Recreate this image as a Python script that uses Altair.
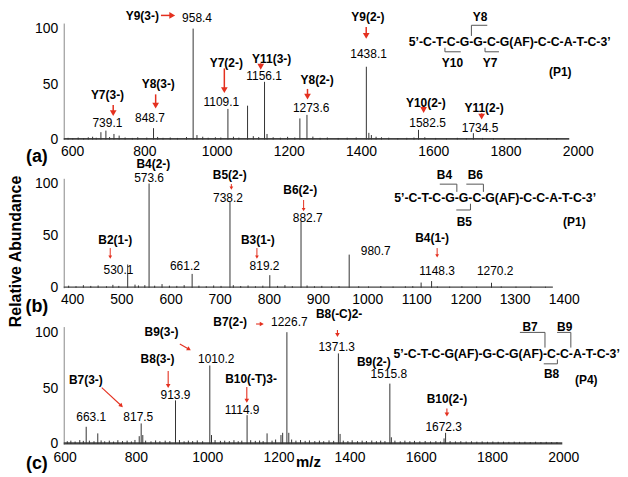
import altair as alt
import pandas as pd

FONT = "Liberation Sans"
RED = "#e4301f"
STICK = "#333333"
BRK = "#555555"

# ---------------- Panel (a) ----------------
a_ticks = [600, 800, 1000, 1200, 1400, 1600, 1800, 2000]
a_peak_mz = [703, 716.8, 739.1, 753.5, 848.7, 958.4, 969, 1054.7, 1109.1, 1156.1, 1163,
             1254, 1273.6, 1438.1, 1445, 1452, 1582.5, 1734.5]
a_peak_int = [6.6, 8, 5, 3.5, 10.2, 100, 4, 27.6, 30.5, 52, 5,
              19, 22.2, 65.6, 6, 4, 8.7, 5.7]
a_noise_mz = [612, 625, 640, 655, 668, 680, 690, 727, 770, 790, 805, 830, 860, 875, 895, 915, 940,
              985, 1000, 1020, 1035, 1070, 1085, 1125, 1140, 1180, 1200, 1220, 1240, 1290, 1310,
              1330, 1360, 1385, 1410, 1465, 1480, 1500, 1525, 1550, 1570, 1600, 1630, 1660, 1690,
              1715, 1760, 1790, 1820, 1850, 1880, 1910, 1940, 1965]
a_noise_int = [1.5, 1.2, 1.8, 1.3, 2, 2.5, 1.6, 2.2, 1.8, 1.4, 2, 1.7, 2.3, 1.5, 1.8, 1.4, 2.2,
               2.5, 1.6, 2, 1.8, 2.5, 1.7, 3, 2.2, 2, 1.6, 2.4, 1.8, 2.6, 1.5,
               1.8, 1.4, 1.6, 1.8, 2.5, 2, 1.6, 1.3, 1.5, 1.8, 2, 1.4, 1.2, 1.5,
               1.3, 1.4, 1.2, 1.3, 1.1, 1.4, 1.2, 1.3, 1.1]
a_lab_text = ["Y9(3-)", "958.4", "Y7(3-)", "739.1", "Y8(3-)", "848.7", "Y7(2-)", "1109.1",
              "Y11(3-)", "1156.1", "Y8(2-)", "1273.6", "Y9(2-)", "1438.1", "Y10(2-)", "1582.5",
              "Y11(2-)", "1734.5", "Y8", "Y10", "Y7", "(P1)"]
a_lab_mz = [817.7, 969.2, 721.2, 721.0, 861.8, 838.9, 1050.3, 1036.5,
            1175.9, 1155.0, 1301.9, 1285.3, 1442.4, 1444.3, 1603.0, 1607.7,
            1764.0, 1753.0, 1753, 1676.6, 1780.5, 1975]
a_lab_ab = [111.4, 109.6, 40.2, 14.6, 49.7, 19.8, 68.6, 34.1,
            73.0, 57.5, 53.6, 28.8, 110.5, 77.5, 32.6, 14.6,
            28.1, 10.8, 110.5, 69.2, 69.2, 60.5]
a_lab_bold = [1, 0, 1, 0, 1, 0, 1, 0, 1, 0, 1, 0, 1, 0, 1, 0, 1, 0, 1, 1, 1, 1]
a_seq = "5\u2019-C-T-C-G-G-C-G(AF)-C-C-A-T-C-3\u2019"
a_seq_mz, a_seq_ab = 1835, 88
a_arr_x1 = [869.2, 737, 854.6, 1044.8, 1145.6, 1275.1, 1437.7, 1596.7, 1757.3]
a_arr_y1 = [111.9, 31.2, 40.7, 64.1, 68.6, 45.6, 101.5, 30.5, 23.6]
a_arr_x2 = [900.5, 737, 854.6, 1044.8, 1145.6, 1275.1, 1437.7, 1596.7, 1757.3]
a_arr_y2 = [111.9, 23.7, 30.6, 44.6, 65.6, 38.7, 93.5, 26.6, 20.7]
a_arr_ang = [90, 180, 180, 180, 180, 180, 180, 180, 180]
a_brk_x1 = [1729, 1729, 1655.7, 1655.7, 1766.7, 1766.7]
a_brk_y1 = [103, 103, 82.7, 79.1, 82.7, 79.1]
a_brk_x2 = [1773, 1729, 1655.7, 1699.5, 1766.7, 1805.3]
a_brk_y2 = [103, 93.4, 79.1, 79.1, 79.1, 79.1]

# ---------------- Panel (b) ----------------
b_ticks = [400, 500, 600, 700, 800, 900, 1000, 1100, 1200, 1300, 1400]
b_peak_mz = [530.1, 573.6, 661.2, 738.2, 819.2, 882.7, 980.7, 1127, 1148.3, 1270.2]
b_peak_int = [22.3, 100, 13.3, 82.5, 12.1, 63.5, 31.8, 5, 6.4, 4.8]
b_noise_mz = [410, 425, 440, 455, 470, 487, 500, 512, 545, 552, 565, 585, 600, 615, 630, 645,
              675, 690, 705, 720, 745, 760, 775, 790, 805, 835, 850, 865, 895, 910, 925, 945,
              960, 1000, 1020, 1045, 1070, 1095, 1110, 1160, 1185, 1210, 1240, 1290, 1320,
              1350, 1380]
b_noise_int = [2, 1.5, 2.5, 1.8, 2.2, 1.5, 2.8, 1.8, 3, 2.2, 2.5, 2, 3.5, 2, 1.8, 2.5,
               2, 1.5, 2.2, 1.8, 2.5, 1.7, 2.2, 1.5, 2, 1.8, 2.5, 1.6, 2.2, 1.5, 1.8, 1.4,
               1.6, 1.5, 1.3, 1.6, 1.2, 1.4, 1.6, 1.3, 1.1, 1.4, 1.2, 1.3, 1.1,
               1.2, 1]
b_lab_text = ["B4(2-)", "573.6", "B5(2-)", "738.2", "B6(2-)", "882.7", "B2(1-)", "530.1",
              "661.2", "B3(1-)", "819.2", "980.7", "B4(1-)", "1148.3", "1270.2",
              "B4", "B6", "B5", "(P1)"]
b_lab_mz = [582.3, 573.6, 737.6, 734.2, 881.0, 896.3, 504.7, 511.4,
            646.5, 795.0, 808.5, 1034.6, 1149.4, 1159.6, 1277.6,
            1174.5, 1237.3, 1215, 1438.7]
b_lab_ab = [118.6, 105.4, 108.0, 86.3, 93.7, 66.6, 46.1, 17.5,
            20.7, 46.1, 20.7, 35.6, 47.6, 15.9, 15.9,
            108.5, 108.5, 63.5, 62.8]
b_lab_bold = [1, 0, 1, 0, 1, 0, 1, 0, 0, 1, 0, 0, 1, 0, 0, 1, 1, 1, 1]
b_seq = "5\u2019-C-T-C-G-G-C-G(AF)-C-C-A-T-C-3\u2019"
b_seq_mz, b_seq_ab = 1277.6, 86.3
b_arr_x1 = [741, 888, 494.6, 793, 1159.6]
b_arr_y1 = [99.5, 84.2, 38.1, 38.1, 38.1]
b_arr_x2 = [741, 888, 494.6, 793, 1159.6]
b_arr_y2 = [95.5, 75, 29.5, 29.5, 30.5]
b_arr_ang = [180, 180, 180, 180, 180]
b_brk_x1 = [1165, 1199.7, 1219, 1253.7, 1227.4, 1198.6]
b_brk_y1 = [99.4, 99.4, 99.4, 99.4, 80.6, 74.6]
b_brk_x2 = [1199.7, 1199.7, 1253.7, 1253.7, 1227.4, 1227.4]
b_brk_y2 = [99.4, 92, 99.4, 92, 74.6, 74.6]

# ---------------- Panel (c) ----------------
c_ticks = [600, 800, 1000, 1200, 1400, 1600, 1800, 2000]
c_peak_mz = [663.1, 695.6, 812, 817.5, 822, 913.9, 1010.2, 1015, 1114.9, 1171, 1210, 1214.8,
             1226.7, 1232, 1371.3, 1376, 1515.8, 1520, 1668, 1672.3]
c_peak_int = [15.4, 9.5, 7, 18.4, 8, 39, 70.2, 8, 25.8, 9.5, 8, 10,
              100, 10, 81, 9, 54, 6, 5, 10]
c_noise_mz = [610, 620, 632, 645, 655, 672, 685, 705, 715, 728, 740, 752, 765, 778, 790, 800,
              830, 845, 858, 870, 885, 898, 925, 938, 950, 962, 975, 990, 1025, 1040, 1052,
              1065, 1078, 1090, 1100, 1125, 1138, 1150, 1160, 1185, 1195, 1240, 1252, 1265,
              1278, 1290, 1305, 1318, 1330, 1345, 1358, 1385, 1398, 1410, 1425, 1438, 1450,
              1465, 1478, 1490, 1502, 1530, 1545, 1558, 1572, 1585, 1600, 1615, 1630, 1645,
              1658, 1685, 1700, 1715, 1730, 1745, 1760, 1775, 1790, 1805, 1820, 1835, 1850,
              1865, 1880, 1895, 1910, 1925, 1940, 1955, 1970, 1985]
c_noise_int = [2.5, 3, 2.2, 3.5, 2.8, 3, 2.5, 3.2, 2.4, 3, 2.2, 3.4, 2.6, 3, 2.3, 3.6,
               3, 2.4, 3.2, 2.5, 3, 2.6, 3.5, 2.4, 3, 2.6, 3.2, 2.5, 3.5, 2.8, 3,
               2.6, 3.4, 2.5, 3, 3.4, 2.8, 3.1, 2.6, 3, 4, 4, 3, 3.5,
               2.8, 3.2, 2.6, 3, 2.5, 3.2, 2.8, 3, 2.6, 3.3, 2.5, 3, 2.7,
               3.1, 2.5, 3, 2.6, 3, 2.4, 3, 2.5, 2.8, 2.4, 2.7, 2.3, 2.6,
               2.2, 2.6, 2.3, 2.5, 2.2, 2.4, 2.1, 2.3, 2, 2.2, 2, 2.1, 1.9,
               2.1, 1.9, 2, 1.8, 2, 1.8, 1.9, 1.7, 1.8]
c_lab_text = ["B7(3-)", "663.1", "817.5", "B8(3-)", "913.9", "B9(3-)", "1010.2", "B10(-T)3-",
              "1114.9", "B7(2-)", "1226.7", "B8(-C)2-", "1371.3", "B9(2-)", "1515.8", "B10(2-)",
              "1672.3", "B7", "B9", "B8", "(P4)"]
c_lab_mz = [662.0, 677.2, 809.4, 863.4, 913.7, 874.5, 1028.3, 1126.1,
            1101.0, 1067.4, 1233.5, 1373.3, 1366.6, 1471.0, 1513.0, 1676.0,
            1666.8, 1909.5, 2006.7, 1969.8, 2067.4]
c_lab_ab = [57.5, 24.3, 24.3, 76.2, 43.6, 99.8, 76.2, 58.4,
            30.2, 108.7, 108.7, 116.2, 86.5, 73.2, 62.8, 40.6,
            15.4, 104.3, 104.3, 62.2, 56.9]
c_lab_bold = [1, 0, 0, 1, 0, 1, 0, 1, 0, 1, 0, 1, 0, 1, 0, 1, 0, 1, 1, 1, 1]
c_seq = "5\u2019-C-T-C-G(AF)-G-C-G(AF)-C-C-A-T-C-3\u2019"
c_seq_mz, c_seq_ab = 1843.8, 80.6
c_arr_x1 = [706.8, 893.3, 926, 1114.1, 1140.1, 1368.6, 1676]
c_arr_y1 = [50.4, 65.2, 89.5, 50.9, 107.3, 102, 31.7]
c_arr_x2 = [761.9, 893.3, 951.9, 1114.1, 1156.1, 1368.6, 1676]
c_arr_y2 = [34.2, 51.9, 84.8, 38.6, 107.3, 97.5, 26.3]
c_arr_ang = [133, 180, 120, 180, 90, 180, 180]
c_brk_x1 = [1881, 1951.4, 1985.5, 2024, 1986.3, 1948]
c_brk_y1 = [99.8, 99.8, 99.8, 99.8, 75.6, 71.7]
c_brk_x2 = [1951.4, 1951.4, 2024, 2024, 1986.3, 1986.3]
c_brk_y2 = [99.8, 86.2, 99.8, 86.2, 71.7, 71.7]


def build_panel(xdom, width, height, ticks, label_dx, label_pad, peak_mz, peak_int, noise_mz,
                noise_int, base_end, base_w, lab_text, lab_mz, lab_ab, lab_bold, seq, seq_mz,
                seq_ab, ax1, ay1, ax2, ay2, aang, head_size, shaft_w,
                bx1, by1, bx2, by2, letter, ytitle=None, xtitle=None):
    xs = alt.Scale(domain=xdom, nice=False, zero=False)
    ys = alt.Scale(domain=[0, 105], nice=False)
    xaxis_kw = dict(values=ticks, grid=False, ticks=False, domain=False, labelFont=FONT,
                    labelFontSize=14, labelColor="black", labelPadding=label_pad,
                    labelOffset=label_dx, labelFlush=False, labelOverlap=False, format="d")
    if xtitle:
        xaxis_kw.update(title=xtitle["text"], titleFont=FONT, titleFontSize=15,
                        titleFontWeight="bold", titleX=xtitle["x"], titleY=xtitle["y"],
                        titleAlign="center", titleBaseline="middle", titleColor="black")
    else:
        xaxis_kw.update(title=None)
    yaxis_kw = dict(values=[0, 50, 100], grid=False, ticks=False, domain=True,
                    domainColor="#888888", domainWidth=1, labelFont=FONT, labelFontSize=14,
                    labelColor="black", labelPadding=6)
    if ytitle:
        yaxis_kw.update(title=ytitle["text"], titleFont=FONT, titleFontSize=16,
                        titleFontWeight="bold", titleX=ytitle["x"], titleY=ytitle["y"],
                        titleAngle=270, titleAlign="center", titleBaseline="middle",
                        titleColor="black")
    else:
        yaxis_kw.update(title=None)
    xaxis = alt.Axis(**xaxis_kw)
    yaxis = alt.Axis(**yaxis_kw)

    mz = list(peak_mz) + list(noise_mz)
    it = list(peak_int) + list(noise_int)
    sticks_df = pd.DataFrame({"mz": mz, "ab": it, "z": [0] * len(mz)})
    sticks = alt.Chart(sticks_df).mark_rule(color=STICK, strokeWidth=1).encode(
        x=alt.X("mz:Q", scale=xs, axis=xaxis),
        y=alt.Y("ab:Q", scale=ys, axis=yaxis),
        y2="z:Q",
    )
    base_df = pd.DataFrame({"mz": [xdom[0]], "mz2": [base_end], "ab": [0.6]})
    base = alt.Chart(base_df).mark_rule(color="#444444", strokeWidth=base_w).encode(
        x=alt.X("mz:Q", scale=xs, axis=xaxis), x2="mz2:Q",
        y=alt.Y("ab:Q", scale=ys, axis=yaxis),
    )
    lab_df = pd.DataFrame({"mz": lab_mz, "ab": lab_ab, "t": lab_text, "b": lab_bold})
    bold = alt.Chart(lab_df).transform_filter("datum.b == 1").mark_text(
        font=FONT, fontSize=12, fontWeight="bold", color="black", align="center",
        baseline="middle").encode(
        x=alt.X("mz:Q", scale=xs, axis=xaxis), y=alt.Y("ab:Q", scale=ys, axis=yaxis), text="t:N")
    reg = alt.Chart(lab_df).transform_filter("datum.b == 0").mark_text(
        font=FONT, fontSize=12, color="black", align="center", baseline="middle").encode(
        x=alt.X("mz:Q", scale=xs, axis=xaxis), y=alt.Y("ab:Q", scale=ys, axis=yaxis), text="t:N")
    seq_df = pd.DataFrame({"mz": [seq_mz], "ab": [seq_ab], "t": [seq]})
    seqm = alt.Chart(seq_df).mark_text(
        font=FONT, fontSize=12.3, fontWeight="bold", color="black", align="center",
        baseline="middle").encode(
        x=alt.X("mz:Q", scale=xs, axis=xaxis), y=alt.Y("ab:Q", scale=ys, axis=yaxis), text="t:N")
    arr_df = pd.DataFrame({"mz": ax1, "ab": ay1, "mz2": ax2, "ab2": ay2, "ang": aang})
    shafts = alt.Chart(arr_df).mark_rule(color=RED, strokeWidth=shaft_w).encode(
        x=alt.X("mz:Q", scale=xs, axis=xaxis), y=alt.Y("ab:Q", scale=ys, axis=yaxis),
        x2="mz2:Q", y2="ab2:Q")
    heads = alt.Chart(arr_df).mark_point(
        shape="triangle-up", filled=True, color=RED, opacity=1, size=head_size,
        strokeWidth=0).encode(
        x=alt.X("mz2:Q", scale=xs, axis=xaxis), y=alt.Y("ab2:Q", scale=ys, axis=yaxis),
        angle=alt.Angle("ang:Q", scale=None))
    brk_df = pd.DataFrame({"mz": bx1, "ab": by1, "mz2": bx2, "ab2": by2})
    brk = alt.Chart(brk_df).mark_rule(color=BRK, strokeWidth=1).encode(
        x=alt.X("mz:Q", scale=xs, axis=xaxis), y=alt.Y("ab:Q", scale=ys, axis=yaxis),
        x2="mz2:Q", y2="ab2:Q")
    let = alt.Chart(pd.DataFrame({"t": [letter["text"]]})).mark_text(
        font=FONT, fontSize=18, fontWeight="bold", color="black", align="center",
        baseline="middle").encode(text="t:N", x=alt.value(letter["x"]), y=alt.value(letter["y"]))
    return alt.layer(base, sticks, shafts, heads, brk, bold, reg, seqm, let).properties(
        width=width, height=height)


pa = build_panel([600, 2000], 508, 117, a_ticks, 8.5, 5, a_peak_mz, a_peak_int, a_noise_mz,
                 a_noise_int, 2000, 1.6, a_lab_text, a_lab_mz, a_lab_ab, a_lab_bold, a_seq,
                 a_seq_mz, a_seq_ab, a_arr_x1, a_arr_y1, a_arr_x2, a_arr_y2, a_arr_ang, 45, 1.5,
                 a_brk_x1, a_brk_y1, a_brk_x2, a_brk_y2, {"text": "(a)", "x": -27, "y": 135})
pb = build_panel([400, 1400], 494, 110, b_ticks, 8.5, 5, b_peak_mz, b_peak_int, b_noise_mz,
                 b_noise_int, 1395, 1.4, b_lab_text, b_lab_mz, b_lab_ab, b_lab_bold, b_seq,
                 b_seq_mz, b_seq_ab, b_arr_x1, b_arr_y1, b_arr_x2, b_arr_y2, b_arr_ang, 14, 1,
                 b_brk_x1, b_brk_y1, b_brk_x2, b_brk_y2, {"text": "(b)", "x": -27, "y": 129},
                 ytitle={"text": "Relative Abundance", "x": -48, "y": 73})
pc = build_panel([600, 2000], 501, 118, c_ticks, 1, 7, c_peak_mz, c_peak_int, c_noise_mz,
                 c_noise_int, 2000, 2.4, c_lab_text, c_lab_mz, c_lab_ab, c_lab_bold, c_seq,
                 c_seq_mz, c_seq_ab, c_arr_x1, c_arr_y1, c_arr_x2, c_arr_y2, c_arr_ang, 22, 1.1,
                 c_brk_x1, c_brk_y1, c_brk_x2, c_brk_y2, {"text": "(c)", "x": -27, "y": 138},
                 xtitle={"text": "m/z", "x": 245.5, "y": 18})

chart = alt.vconcat(pa, pb, pc, spacing=39, bounds="flush", padding=0).configure_view(stroke=None)
chart.save("out.html", embed_options={"renderer": "svg", "actions": False})
